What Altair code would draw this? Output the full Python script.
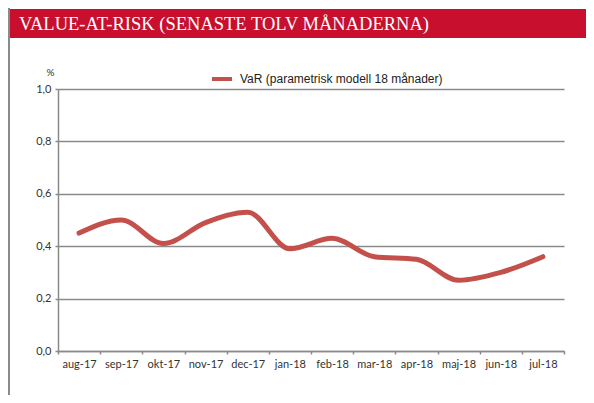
import altair as alt
import pandas as pd

months = ["aug-17", "sep-17", "okt-17", "nov-17", "dec-17", "jan-18",
          "feb-18", "mar-18", "apr-18", "maj-18", "jun-18", "jul-18"]
var_values = [0.45, 0.50, 0.41, 0.49, 0.53, 0.39, 0.43, 0.36, 0.35, 0.27, 0.30, 0.36]
series_name = "VaR (parametrisk modell 18 månader)"
title_text = "VALUE-AT-RISK (SENASTE TOLV MÅNADERNA)"
y_ticks = [0.0, 0.2, 0.4, 0.6, 0.8, 1.0]

df = pd.DataFrame({"month": months, "value": var_values, "series": series_name})
one = pd.DataFrame({"t": [title_text]})

W, H = 506, 262
PL, PT, PR, PB = 50, 81, 22, 44
AX_FONT = "Lato"

banner = alt.Chart(one).mark_rect(color="#C8102E").encode(
    x=alt.value(-PL), x2=alt.value(W + PR), y=alt.value(-80), y2=alt.value(-51)
)
title = alt.Chart(one).mark_text(
    align="left", baseline="alphabetic", font="Liberation Serif", fontSize=18.5,
    color="white"
).encode(x=alt.value(-39), y=alt.value(-59), text="t:N")
frame = alt.Chart(one).mark_rule(color="#8a8a8a", strokeWidth=2).encode(
    x=alt.value(-PL + 1), y=alt.value(-81), y2=alt.value(H + PB)
)

line = alt.Chart(df).mark_line(
    interpolate="monotone", strokeWidth=5, strokeCap="round"
).encode(
    x=alt.X("month:N", sort=months, scale=alt.Scale(paddingInner=0, paddingOuter=0),
            axis=alt.Axis(title=None, labelAngle=0, tickBand="extent", grid=False,
                          domainColor="#8a8a8a", domainWidth=1.5, tickColor="#8a8a8a",
                          tickSize=3, tickWidth=1.5, labelPadding=4,
                          labelFont=AX_FONT, labelFontSize=11,
                          labelColor="#333333")),
    y=alt.Y("value:Q", scale=alt.Scale(domain=[0, 1]),
            axis=alt.Axis(values=y_ticks, title="%", titleAngle=0, titleX=-8, titleY=-12,
                          titleFont=AX_FONT, titleFontSize=10,
                          titleFontWeight="normal", titleColor="#333333",
                          labelExpr="replace(format(datum.value, '.1f'), '.', ',')",
                          labelFont=AX_FONT, labelFontSize=11,
                          labelColor="#333333", labelPadding=4,
                          domainColor="#8a8a8a", domainWidth=1.5, tickColor="#8a8a8a",
                          tickSize=3, tickWidth=1.5, gridColor="#8a8a8a", gridWidth=1.5)),
    color=alt.Color("series:N", scale=alt.Scale(range=["#C4504B"]),
                    legend=alt.Legend(title=None, orient="none", legendX=152, legendY=-22,
                                      symbolType="stroke", symbolSize=400,
                                      symbolStrokeWidth=4, labelFont="Liberation Sans",
                                      labelFontSize=12, labelColor="#222222",
                                      labelOffset=6, labelLimit=400)),
)

chart = alt.layer(banner, frame, line, title).properties(
    width=W, height=H,
    autosize=alt.AutoSizeParams(type="none"),
    padding={"left": PL, "top": PT, "right": PR, "bottom": PB},
).configure_view(stroke=None)

chart.save("out.html", embed_options={"renderer": "svg", "actions": False})
